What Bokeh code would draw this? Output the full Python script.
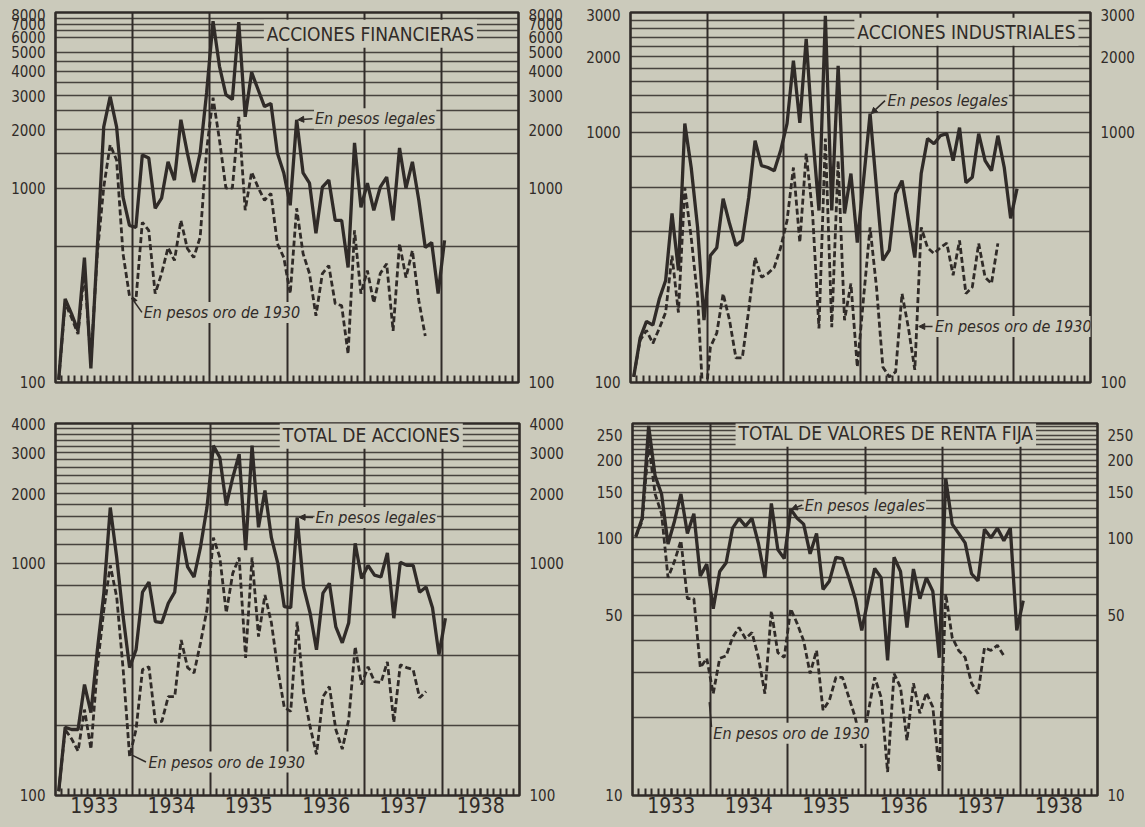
from bokeh.plotting import figure
from bokeh.models import (Range1d, FixedTicker, LogAxis, NumeralTickFormatter,
                          CustomJSTickFormatter, Label, Arrow, NormalHead)
from bokeh.layouts import row, column
from bokeh.embed import file_html
from bokeh.resources import INLINE

PAPER = "#cbcabb"
INK = "#302b28"
FONT = "'Liberation Sans Narrow', 'DejaVu Sans Condensed', 'Liberation Sans', sans-serif"

START_YEAR = 1933
YEARS = [1933, 1934, 1935, 1936, 1937, 1938]

# ---- data (monthly index numbers) ----
fin_legal = [103, 269, 225, 184, 439, 118, 494, 2070, 2960, 2070, 898, 642, 628, 1483, 1430, 787,
             888, 1366, 1100, 2250, 1518, 1074, 1518, 3100, 7240, 4240, 3030, 2860, 7160, 2330,
             3950, 3220, 2630, 2730, 1518, 1197, 816, 2250, 1197, 1060, 585, 1011, 1100, 682, 682,
             390, 1710, 797, 1060, 769, 1011, 1140, 682, 1610, 1000, 1366, 866, 494, 525, 286, 538]
fin_oro = [103, 256, 215, 177, 376, 128, 460, 1010, 1670, 1395, 460, 279, 263, 667, 606, 286,
           363, 494, 424, 682, 489, 439, 560, 1570, 2920, 1770, 1000, 1000, 2330, 769, 1210,
           1010, 866, 940, 518, 439, 286, 787, 460, 363, 220, 363, 399, 254, 248, 140, 606, 286,
           376, 256, 363, 408, 184, 518, 346, 477, 263, 173]

ind_legal = [105, 150, 175, 169, 215, 255, 473, 280, 1082, 722, 416, 177, 321, 345, 542, 431,
             352, 369, 548, 925, 735, 722, 701, 844, 1082, 1930, 1090, 2360, 986, 486, 2920, 486,
             1840, 473, 683, 362, 650, 1186, 600, 307, 337, 567, 640, 450, 315, 683, 942, 899,
             968, 986, 769, 1042, 628, 660, 986, 769, 701, 968, 722, 452, 594]
ind_oro = [105, 147, 161, 143, 164, 190, 321, 190, 600, 379, 218, 73, 138, 157, 226, 177, 125,
           125, 194, 315, 263, 272, 288, 345, 443, 722, 362, 821, 473, 164, 942, 166, 769, 177,
           248, 115, 220, 416, 240, 115, 105, 110, 226, 165, 112, 416, 345, 327, 345, 360, 268,
           369, 226, 240, 359, 263, 248, 359]

tot_legal = [104, 196, 192, 192, 300, 227, 424, 744, 1740, 1060, 588, 355, 424, 751, 830, 560,
             555, 673, 751, 1360, 966, 873, 1175, 1740, 3220, 2860, 1780, 2340, 2960, 1140, 3220,
             1430, 2060, 1290, 1000, 650, 644, 1580, 790, 612, 424, 744, 820, 532, 454, 555, 1220,
             860, 980, 890, 873, 1110, 580, 1010, 980, 980, 751, 790, 644, 404, 580]
tot_oro = [104, 192, 175, 155, 234, 158, 358, 630, 980, 715, 348, 147, 192, 348, 358, 206, 208,
           266, 266, 467, 355, 337, 454, 630, 1290, 1060, 612, 905, 1060, 391, 1060, 483, 730,
           555, 348, 239, 230, 560, 277, 198, 150, 266, 294, 192, 158, 212, 437, 300, 358, 309,
           306, 376, 206, 365, 355, 348, 263, 280]

rf_legal = [101, 119, 272, 174, 148, 94.6, 116, 148, 104, 124, 71, 79, 53, 74, 80, 109, 119, 111,
            119, 95, 70, 136, 90, 83, 129, 119, 113, 86.6, 104, 63, 68, 84, 83, 70, 58, 43.7, 58,
            76, 70, 33.4, 84, 74, 44.8, 75.6, 58, 70, 62, 34.2, 170, 113, 104, 95.6, 72.5, 68,
            108, 100, 109, 97.5, 109, 43.7, 57]
rf_oro = [101, 116, 231, 148, 124, 70, 81, 97.5, 58, 58, 31.3, 34, 24.8, 34, 34.8, 41, 44.8,
          40.6, 42.8, 34.3, 24.8, 52, 35.8, 34.3, 53, 46.4, 39.8, 29.7, 36.5, 21.4, 23.4, 28.7,
          28.7, 24.0, 20, 15.3, 21, 28.7, 24, 12.3, 29.7, 26.2, 16.3, 27.2, 20.8, 25, 22, 12.3,
          60.5, 41, 36.5, 34.3, 27.2, 24.8, 37.4, 36.5, 38.2, 34.8]

# axis labels and grid levels
fin_labels = [100, 1000, 2000, 3000, 4000, 5000, 6000, 7000, 8000]
fin_grid = [500, 1000, 1500, 2000, 2500, 3000, 3500, 4000, 4500, 5000, 6000, 6500, 7000, 7500]
ind_labels = [100, 1000, 2000, 3000]
ind_grid = [200, 400, 600, 800, 1000, 1200, 1400, 1600, 1800, 2000, 2200, 2400, 2600, 2800]
tot_labels = [100, 1000, 2000, 3000, 4000]
tot_grid = list(range(200, 4000, 200))
rf_labels = [10, 50, 100, 150, 200, 250]
rf_grid = list(range(20, 280, 10))


def month_x(values):
    return [START_YEAR + (i + 0.5) / 12 for i in range(len(values))]


def make_panel(width, height, borders, yrange, labels, grid, show_years):
    left, right, top, bottom = borders
    p = figure(width=width, height=height, x_range=Range1d(1933, 1939),
               y_range=Range1d(*yrange), y_axis_type="log",
               output_backend="svg", toolbar_location=None,
               min_border_left=left, min_border_right=right,
               min_border_top=top, min_border_bottom=bottom)
    p.background_fill_color = PAPER
    p.border_fill_color = PAPER
    p.outline_line_color = INK
    p.outline_line_width = 2.6

    ya = p.yaxis[0]
    ya.ticker = FixedTicker(ticks=labels)
    ya.formatter = NumeralTickFormatter(format="0")
    ra = LogAxis(ticker=FixedTicker(ticks=labels), formatter=NumeralTickFormatter(format="0"))
    p.add_layout(ra, "right")
    for ax in (ya, ra):
        ax.axis_line_color = None
        ax.major_tick_line_color = None
        ax.minor_tick_line_color = None
        ax.major_label_standoff = 4
        ax.major_label_text_font = FONT
        ax.major_label_text_font_size = "15px"
        ax.major_label_text_color = INK

    months = [START_YEAR + k / 12 for k in range(1, 72) if k % 12]
    xa = p.xaxis[0]
    mids = [y + 0.5 for y in YEARS] if show_years else []
    xa.ticker = FixedTicker(ticks=mids, minor_ticks=months)
    xa.formatter = CustomJSTickFormatter(code="return Math.floor(tick).toString()")
    xa.axis_line_color = None
    xa.major_tick_in = 7
    xa.major_tick_out = 0
    xa.minor_tick_in = 7
    xa.minor_tick_out = 0
    xa.major_tick_line_color = INK
    xa.minor_tick_line_color = INK
    xa.major_tick_line_width = 2
    xa.minor_tick_line_width = 2
    xa.major_label_standoff = 1
    xa.major_label_text_font = FONT
    xa.major_label_text_font_size = "21px"
    xa.major_label_text_color = INK

    p.xgrid.ticker = FixedTicker(ticks=YEARS[1:])
    p.xgrid.grid_line_color = INK
    p.xgrid.grid_line_width = 2
    p.ygrid.ticker = FixedTicker(ticks=grid)
    p.ygrid.grid_line_color = INK
    p.ygrid.grid_line_width = 1.6
    p.ygrid.grid_line_alpha = 0.85
    return p


def add_series(p, legal, oro):
    p.line(month_x(legal), legal, line_color=INK, line_width=3.3)
    p.line(month_x(oro), oro, line_color=INK, line_width=2.8, line_dash="6 3")


def add_title(p, text, x, y):
    p.add_layout(Label(x=x, y=y, text=text, text_font=FONT, text_font_size="19px",
                       text_color=INK, text_align="left", text_baseline="middle",
                       background_fill_color=PAPER, padding=3))


def add_note(p, text, x, y, x0, y0, x1, y1, head=True):
    p.add_layout(Label(x=x, y=y, text=text, text_font=FONT, text_font_size="16px",
                       text_font_style="italic", text_color=INK, text_align="left",
                       text_baseline="middle", background_fill_color=PAPER, padding=1))
    end = NormalHead(size=6, fill_color=INK, line_color=INK) if head else None
    p.add_layout(Arrow(end=end, x_start=x0, y_start=y0, x_end=x1, y_end=y1,
                       line_color=INK, line_width=1.5))


p1 = make_panel(568, 408, (44, 58, 4, 34), (99.7, 8030), fin_labels, fin_grid, False)
add_series(p1, fin_legal, fin_oro)
add_title(p1, "ACCIONES FINANCIERAS", 1935.70, 6240)
add_note(p1, "En pesos legales", 1936.35, 2280, 1936.33, 2280, 1936.14, 2250)
add_note(p1, "En pesos oro de 1930", 1934.13, 229, 1934.12, 229, 1933.99, 271, head=False)

p2 = make_panel(561, 408, (54, 40, 4, 34), (99.7, 3010), ind_labels, ind_grid, False)
add_series(p2, ind_legal, ind_oro)
add_title(p2, "ACCIONES INDUSTRIALES", 1935.92, 2520)
add_note(p2, "En pesos legales", 1936.34, 1337, 1936.32, 1337, 1936.14, 1186)
add_note(p2, "En pesos oro de 1930", 1936.96, 167, 1936.94, 167, 1936.76, 167)

p3 = make_panel(568, 403, (44, 57, 7, 23), (99.7, 4010), tot_labels, tot_grid, True)
add_series(p3, tot_legal, tot_oro)
add_title(p3, "TOTAL DE ACCIONES", 1935.90, 3590)
add_note(p3, "En pesos legales", 1936.35, 1578, 1936.33, 1578, 1936.15, 1580)
add_note(p3, "En pesos oro de 1930", 1934.19, 139, 1934.17, 139, 1933.97, 150, head=False)

p4 = make_panel(561, 403, (56, 40, 7, 24), (9.97, 278), rf_labels, rf_grid, True)
add_series(p4, rf_legal, rf_oro)
add_title(p4, "TOTAL DE VALORES DE RENTA FIJA", 1934.33, 256)
add_note(p4, "En pesos legales", 1935.21, 134, 1935.19, 134, 1935.05, 129)
add_note(p4, "En pesos oro de 1930", 1934.03, 17.4, 1934.02, 18.4, 1933.99, 23, head=False)

layout = column(row(p1, p2), row(p3, p4))
html = file_html(layout, INLINE)
html = html.replace("</head>", "<style>html,body{background:%s;margin:0;padding:0;}body{margin:8px;}</style></head>" % PAPER, 1)
open("out.html", "w").write(html)
